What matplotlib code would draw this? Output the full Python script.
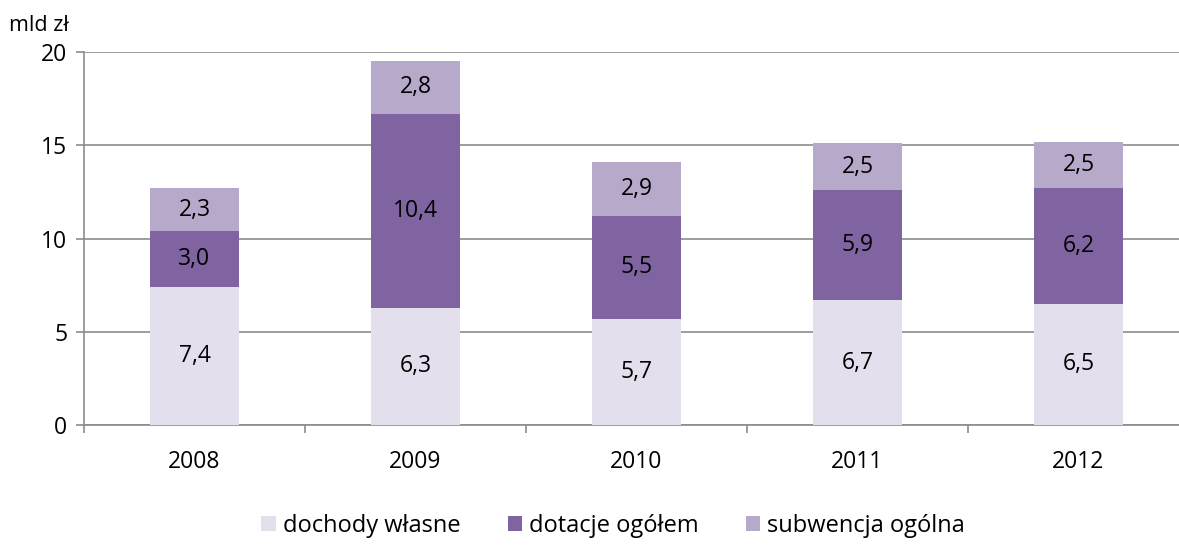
import numpy as np
import matplotlib.pyplot as plt
from matplotlib.patches import Patch

plt.rcParams['font.family'] = ['Open Sans', 'DejaVu Sans']

years = ["2008", "2009", "2010", "2011", "2012"]
dochody = [7.4, 6.3, 5.7, 6.7, 6.5]
dotacje = [3.0, 10.4, 5.5, 5.9, 6.2]
subwencja = [2.3, 2.8, 2.9, 2.5, 2.5]
series_names = ["dochody własne", "dotacje ogółem", "subwencja ogólna"]
colors = ["#E4DFEC", "#8064A2", "#B7A9CA"]


def Main():
    fig = plt.figure(figsize=(11.79, 5.48), dpi=100)
    ax = fig.add_axes([0.0712, 0.2245, 0.9373, 0.6805])
    x = np.arange(len(years))
    bottom = np.zeros(len(years))
    for vals, color in zip([dochody, dotacje, subwencja], colors):
        vals = np.array(vals)
        ax.bar(x, vals, bottom=bottom, width=0.4, color=color, zorder=3)
        for xi, b, v in zip(x, bottom, vals):
            ax.text(xi, b + v / 2, f"{v:.1f}".replace(".", ","), ha="center", va="center",
                    fontsize=16.5, color="black", zorder=4)
        bottom += vals

    ax.set_xlim(-0.5, len(years) - 0.5)
    ax.set_ylim(0, 20)
    ax.set_yticks([0, 5, 10, 15, 20])
    ax.yaxis.grid(True, color="#8c8c8c", linewidth=1.2, zorder=0)
    ax.set_xticks(x)
    ax.set_xticklabels(years)
    ax.set_xticks(np.arange(-0.5, len(years)), minor=True)
    ax.tick_params(axis="x", which="major", length=0, pad=18, labelsize=16.5)
    ax.tick_params(axis="x", which="minor", length=6, color="#8c8c8c", width=1.2)
    ax.tick_params(axis="y", length=6, color="#8c8c8c", width=1.2, labelsize=16.5, pad=6)
    for side in ["top", "right"]:
        ax.spines[side].set_visible(False)
    for side in ["left", "bottom"]:
        ax.spines[side].set_color("#8c8c8c")
        ax.spines[side].set_linewidth(1.2)

    fig.text(0.008, 0.935, "mld zł", fontsize=15.5, ha="left", va="bottom")

    handles = [Patch(facecolor=c, edgecolor="none") for c in colors]
    fig.legend(handles, series_names, loc="center", bbox_to_anchor=(0.52, 0.04), ncol=3,
               frameon=False, fontsize=17, handlelength=0.6, handleheight=0.6,
               handletextpad=0.3, columnspacing=2.0)

    fig.savefig("out.png", dpi=100)
    plt.close(fig)


if __name__ == "__main__":
    Main()
